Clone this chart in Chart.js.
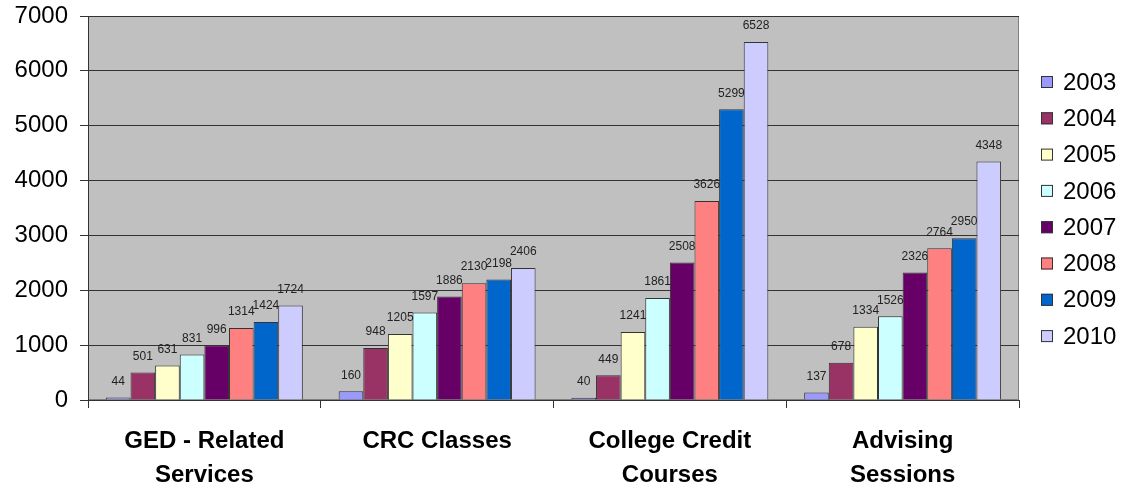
<!DOCTYPE html>
<html>
<head>
<meta charset="utf-8">
<script src="https://cdn.jsdelivr.net/npm/chart.js@4"></script>
<style>
html,body{margin:0;padding:0;background:#fff;}
#wrap{width:1130px;height:491px;position:relative;}
</style>
</head>
<body>
<div id="wrap"><canvas id="c" width="1130" height="491"></canvas></div>
<script>
const categories = [["GED - Related","Services"],["CRC Classes"],["College Credit","Courses"],["Advising","Sessions"]];
const years = ["2003","2004","2005","2006","2007","2008","2009","2010"];
const v2003 = [44, 160, 40, 137];
const v2004 = [501, 948, 449, 678];
const v2005 = [631, 1205, 1241, 1334];
const v2006 = [831, 1597, 1861, 1526];
const v2007 = [996, 1886, 2508, 2326];
const v2008 = [1314, 2130, 3626, 2764];
const v2009 = [1424, 2198, 5299, 2950];
const v2010 = [1724, 2406, 6528, 4348];
const yTicks = [0,1000,2000,3000,4000,5000,6000,7000];
const colors = ["#9999FF","#993366","#FFFFCC","#CCFFFF","#660066","#FF8080","#0066CC","#CCCCFF"];

const series = [v2003,v2004,v2005,v2006,v2007,v2008,v2009,v2010];
const FONT = "'Liberation Sans', Arial, sans-serif";

const bgPlugin = {
  id:'bg',
  beforeDraw(chart){
    const {ctx, chartArea:a} = chart;
    ctx.save();
    ctx.fillStyle = '#C0C0C0';
    ctx.fillRect(a.left, a.top, a.right-a.left, a.bottom-a.top);
    ctx.strokeStyle = '#808080';
    ctx.lineWidth = 1;
    ctx.strokeRect(a.left+0.5, a.top+0.5, a.right-a.left-1, a.bottom-a.top-1);
    ctx.restore();
  }
};

const labelPlugin = {
  id:'vals',
  afterDatasetsDraw(chart){
    const ctx = chart.ctx;
    ctx.save();
    ctx.font = "12px " + FONT;
    ctx.fillStyle = '#222';
    ctx.textAlign = 'center';
    ctx.textBaseline = 'bottom';
    chart.data.datasets.forEach((ds,i)=>{
      const meta = chart.getDatasetMeta(i);
      meta.data.forEach((el,j)=>{
        ctx.fillText(String(ds.data[j]), el.x, el.y - 10);
      });
    });
    ctx.restore();
  }
};

const legendPlugin = {
  id:'lg',
  afterDraw(chart){
    const ctx = chart.ctx;
    ctx.save();
    ctx.font = "24px " + FONT;
    ctx.textBaseline = 'middle';
    ctx.textAlign = 'left';
    chart.data.datasets.forEach((ds,i)=>{
      const cy = 82 + i*36.3;
      ctx.fillStyle = ds.backgroundColor;
      ctx.fillRect(1041, cy-6, 12, 12);
      ctx.strokeStyle = '#333';
      ctx.lineWidth = 1;
      ctx.strokeRect(1041.5, cy-5.5, 11, 11);
      ctx.fillStyle = '#000';
      ctx.fillText(ds.label, 1063, cy+1);
    });
    ctx.restore();
  }
};

new Chart(document.getElementById('c'), {
  type:'bar',
  data:{
    labels: categories,
    datasets: years.map((y,i)=>({
      label:y,
      data:series[i],
      backgroundColor:colors[i],
      borderColor:'#333',
      borderWidth:1,
      categoryPercentage:0.846,
      barPercentage:1
    }))
  },
  options:{
    responsive:false,
    animation:false,
    devicePixelRatio:1,
    layout:{padding:{top:16,right:111,left:0,bottom:0}},
    plugins:{legend:{display:false},tooltip:{enabled:false}},
    scales:{
      y:{
        min:0,max:7000,
        afterFit(s){ s.width = 88; s.paddingTop = 0; s.paddingBottom = 0; },
        afterBuildTicks(s){ s.ticks = yTicks.map(v=>({value:v})); },
        ticks:{font:{family:FONT,size:24},color:'#000',padding:12,callback:(v)=>String(v)},
        grid:{color:'#333',lineWidth:1,tickLength:8},
        border:{color:'#333'}
      },
      x:{
        afterFit(s){ s.height = 91; s.paddingLeft = 0; s.paddingRight = 0; },
        ticks:{font:{family:FONT,size:24,weight:'bold',lineHeight:1.4},color:'#000',padding:17,maxRotation:0,autoSkip:false},
        grid:{offset:true,drawOnChartArea:false,color:'#333',tickLength:8},
        border:{color:'#333'}
      }
    }
  },
  plugins:[bgPlugin,labelPlugin,legendPlugin]
});
</script>
</body>
</html>
